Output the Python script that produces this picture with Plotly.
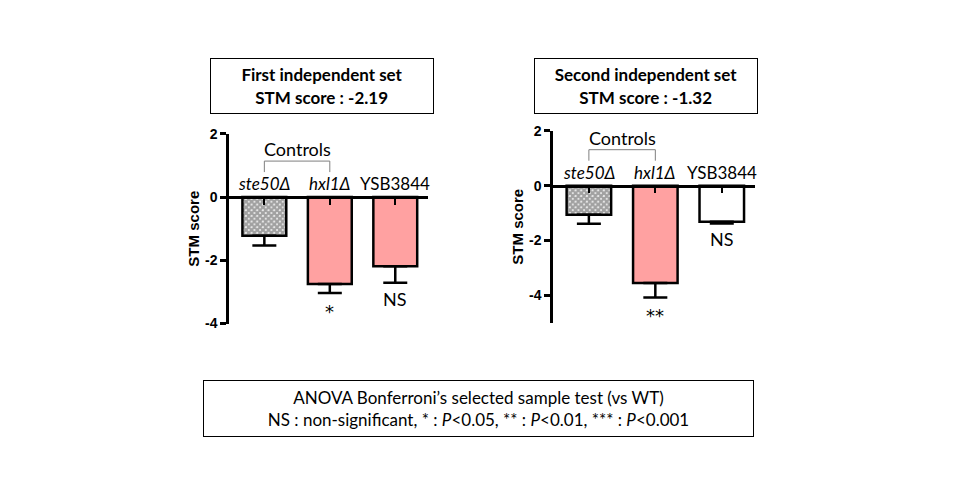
import plotly.graph_objects as go

# --- dados ---
cepas = ["ste50Δ", "hxl1Δ", "YSB3844"]
italico = [True, True, False]

set1_valores = [-1.22, -2.75, -2.19]
set1_erros = [0.31, 0.28, 0.52]
set1_sig = ["", "*", "NS"]

set2_valores = [-1.06, -3.55, -1.32]
set2_erros = [0.33, 0.53, 0.06]
set2_sig = ["", "**", "NS"]

y_ticks = [2, 0, -2, -4]
y_ticktext = ["2", "0", "-2", "-4"]  # hifen, como no original

titulos = ["<b>First independent set<br>STM score : -2.19</b>",
           "<b>Second independent set<br>STM score : -1.32</b>"]
nota = ("ANOVA Bonferroni’s selected sample test (vs WT)<br>"
        "NS : non-significant, * : <i>P</i>&lt;0.05, ** : <i>P</i>&lt;0.01, "
        "*** : <i>P</i>&lt;0.001")

ROSA = "#FFA1A1"
W, H = 960, 500
FONTE = "Lato"

fig = go.Figure()

paineis = [
    # valores, erros, sig, cores, faixa y, dominio x (px), dominio y (px), eixo
    (set1_valores, set1_erros, set1_sig, ["white", ROSA, ROSA], [-4, 2], (229, 428), (326, 130), ""),
    (set2_valores, set2_erros, set2_sig, ["white", ROSA, "white"], [-5, 2], (553, 755), (325, 127), "2"),
]

for i, (vals, errs, sig, cores, yr, dx, dy, n) in enumerate(paineis):
    fig.add_trace(go.Bar(
        x=cepas, y=vals, width=0.67,
        xaxis="x" + n, yaxis="y" + n,
        marker=dict(color=cores, line=dict(color="black", width=2.5),
                    pattern=dict(shape=["x", "", ""], fgcolor="black",
                                 bgcolor="white", size=4, solidity=0.85)),
        error_y=dict(type="data", symmetric=False, array=[0, 0, 0],
                     arrayminus=errs, color="black", thickness=2.5, width=12),
        showlegend=False,
    ))

    d0, d1 = 1 - dy[0] / H, 1 - dy[1] / H
    pos_zero = d0 + (0 - yr[0]) / (yr[1] - yr[0]) * (d1 - d0)

    fig.update_layout(**{
        "xaxis" + n: dict(domain=[dx[0] / W, dx[1] / W], anchor="free",
                          position=pos_zero, range=[-0.54, 2.5],
                          showline=True, linecolor="black", linewidth=2.5,
                          ticks="outside", ticklen=6, tickwidth=2,
                          tickcolor="black", showticklabels=False,
                          showgrid=False, zeroline=False, fixedrange=True),
        "yaxis" + n: dict(domain=[d0, d1], anchor="x" + n, range=yr,
                          tickvals=y_ticks, ticktext=y_ticktext,
                          showline=True, linecolor="black",
                          linewidth=2.5, ticks="outside", ticklen=6,
                          tickwidth=2.5, tickcolor="black",
                          tickfont=dict(family="Liberation Sans", size=14,
                                        color="black", weight="bold"),
                          title=dict(text="STM score", standoff=2,
                                     font=dict(family="Liberation Sans",
                                               size=15, color="black",
                                               weight="bold")),
                          showgrid=False, zeroline=False, fixedrange=True),
    })

    # rotulos das cepas acima da linha zero
    for c, it in zip(cepas, italico):
        fig.add_annotation(x=c, y=0, xref="x" + n, yref="y" + n,
                           text=f"<i>{c}</i>" if it else c, showarrow=False,
                           yanchor="bottom", yshift=1,
                           font=dict(family=FONTE, size=17, color="black"))

    # significancia abaixo das barras de erro
    for c, v, e, s in zip(cepas, vals, errs, sig):
        if s:
            ns = s == "NS"
            fig.add_annotation(x=c, y=v - e, xref="x" + n, yref="y" + n,
                               text=s, showarrow=False, yanchor="top",
                               yshift=-3 if ns else -6,
                               font=dict(family=FONTE if ns else "DejaVu Sans",
                                         size=18, color="black"))

    # chave "Controls"
    for x0, x1, y0, y1 in [(0, 0, 25, 36), (1, 1, 25, 36), (0, 1, 36, 36)]:
        fig.add_shape(type="line", xref="x" + n, yref="y" + n,
                      x0=x0, x1=x1, ysizemode="pixel", yanchor=0,
                      y0=y0, y1=y1, line=dict(color="#7f7f7f", width=1))
    fig.add_annotation(x=0.5, y=0, xref="x" + n, yref="y" + n,
                       text="Controls", showarrow=False, yanchor="bottom",
                       yshift=35, font=dict(family=FONTE, size=18, color="black"))

    # caixa de titulo
    cx = [321.5, 646][i]
    fig.add_annotation(x=cx / W, y=1 - 81 / H, xref="paper", yref="paper",
                       text=titulos[i], showarrow=False, align="center",
                       xanchor="center", yanchor="middle",
                       width=220, height=52, bordercolor="black", borderwidth=1,
                       font=dict(family=FONTE, size=17, color="black"))

# nota estatistica
fig.add_annotation(x=478.5 / W, y=1 - 413.5 / H, xref="paper", yref="paper",
                   text=nota, showarrow=False, align="center",
                   xanchor="center", yanchor="middle",
                   width=547, height=53, bordercolor="black", borderwidth=1,
                   font=dict(family=FONTE, size=17, color="black"))

fig.update_layout(width=W, height=H, margin=dict(l=0, r=0, t=0, b=0),
                  paper_bgcolor="white", plot_bgcolor="white", bargap=0.3)

# tira a margem padrao do body para a figura ficar em 0,0
fig.write_html("out.html", config={"displayModeBar": False},
               post_script="document.body.style.margin='0';")
